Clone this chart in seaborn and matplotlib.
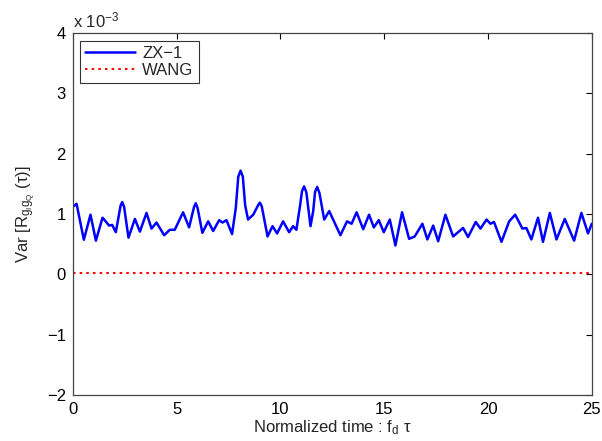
import numpy as np
import pandas as pd
import matplotlib
matplotlib.use("Agg")
import matplotlib.pyplot as plt
import seaborn as sns

# Normalized time (f_d * tau) and variance values (in units of 1e-3)
t_zx1 = [0.0, 0.18, 0.53, 0.85, 1.11, 1.43, 1.75, 1.90, 2.07, 2.30, 2.38, 2.47, 2.68, 2.99, 3.23,
         3.55, 3.79, 4.03, 4.40, 4.67, 4.91, 5.31, 5.60, 5.84, 5.92, 6.01, 6.24, 6.52, 6.76,
         7.05, 7.21, 7.40, 7.67, 7.85, 7.97, 8.08, 8.19, 8.30, 8.44, 8.69, 8.93, 9.01, 9.10,
         9.38, 9.62, 9.84, 10.13, 10.42, 10.61, 10.77, 10.95, 11.04, 11.14, 11.25, 11.45,
         11.58, 11.67, 11.77, 11.88, 12.11, 12.35, 12.89, 13.21, 13.43, 13.67, 13.99, 14.27,
         14.50, 14.74, 14.98, 15.27, 15.54, 15.86, 16.20, 16.47, 16.84, 17.08, 17.36, 17.60,
         17.95, 18.32, 18.80, 19.04, 19.41, 19.64, 19.93, 20.12, 20.29, 20.65, 21.02, 21.31,
         21.66, 21.85, 22.09, 22.41, 22.65, 22.98, 23.30, 23.70, 24.15, 24.50, 24.82, 25.0]
v_zx1 = [1.12, 1.17, 0.575, 0.99, 0.56, 0.94, 0.81, 0.82, 0.70, 1.14, 1.20, 1.12, 0.61, 0.92, 0.71,
         1.02, 0.76, 0.86, 0.65, 0.74, 0.74, 1.03, 0.78, 1.12, 1.18, 1.10, 0.69, 0.88, 0.72,
         0.90, 0.86, 0.90, 0.67, 1.10, 1.62, 1.72, 1.62, 1.15, 0.91, 0.99, 1.15, 1.19, 1.13,
         0.63, 0.80, 0.68, 0.88, 0.70, 0.80, 0.74, 1.15, 1.38, 1.46, 1.36, 0.80,
         1.05, 1.37, 1.45, 1.35, 0.91, 1.05, 0.65, 0.88, 0.84, 1.03, 0.75, 0.99,
         0.78, 0.90, 0.70, 0.91, 0.48, 1.03, 0.59, 0.63, 0.84, 0.58, 0.81, 0.55,
         0.99, 0.63, 0.77, 0.62, 0.87, 0.76, 0.91, 0.84, 0.87, 0.54, 0.88, 0.99,
         0.76, 0.77, 0.58, 0.94, 0.54, 1.02, 0.58, 0.92, 0.56, 1.02, 0.68, 0.84]

t_wang = [0.0, 5.0, 10.0, 15.0, 20.0, 25.0]
v_wang = [0.03, 0.03, 0.03, 0.03, 0.03, 0.03]

x_ticks = [0, 5, 10, 15, 20, 25]
y_ticks = [-2, -1, 0, 1, 2, 3, 4]
y_tick_labels = ["\u22122", "\u22121", "0", "1", "2", "3", "4"]

sns.set_style("white")
plt.rcParams['font.family'] = ['Liberation Sans', 'DejaVu Sans']
plt.rcParams['mathtext.fontset'] = 'custom'
plt.rcParams['mathtext.rm'] = 'Liberation Sans'
plt.rcParams['mathtext.it'] = 'Liberation Sans'

fig = plt.figure(figsize=(6.02, 4.41), dpi=100)
ax = fig.add_axes([0.121, 0.104, 0.862, 0.821])

df1 = pd.DataFrame({"t": t_zx1, "v": v_zx1})
df2 = pd.DataFrame({"t": t_wang, "v": v_wang})
sns.lineplot(data=df1, x="t", y="v", ax=ax, color="#0000ff", lw=1.8, label="ZX\u22121",
             solid_joinstyle="round", solid_capstyle="round")
sns.lineplot(data=df2, x="t", y="v", ax=ax, color="#ff0000", lw=1.5, ls=(0, (1.2, 2.0)), label="WANG")

ax.set_xlim(0, 25)
ax.set_ylim(-2, 4)
ax.set_xticks(x_ticks)
ax.set_yticks(y_ticks)
ax.set_yticklabels(y_tick_labels)
ax.tick_params(direction="in", length=4, width=0.8, top=True, right=True, labelsize=12,
               colors="black", pad=5)
for s in ax.spines.values():
    s.set_color("#444444")
    s.set_linewidth(0.9)
    s.set_visible(True)

ax.set_xlabel(r"Normalized time : f$_{\mathrm{d}}$ $\tau$", fontsize=12, labelpad=1)
ax.set_ylabel(r"Var [R$_{g_{I}g_{Q}}$ ($\tau$)]", fontsize=12, labelpad=6)
ax.text(0.0, 1.008, r"x 10$^{-3}$", transform=ax.transAxes, fontsize=12, ha="left", va="bottom")

leg = ax.legend(loc="upper left", bbox_to_anchor=(0.004, 0.993), fontsize=12, frameon=True,
                fancybox=False, handlelength=3.0, borderpad=0.3, labelspacing=0.15,
                handletextpad=0.45, borderaxespad=0.3)
leg.get_frame().set_edgecolor("black")
leg.get_frame().set_linewidth(0.8)

fig.savefig("out.png", dpi=100)
